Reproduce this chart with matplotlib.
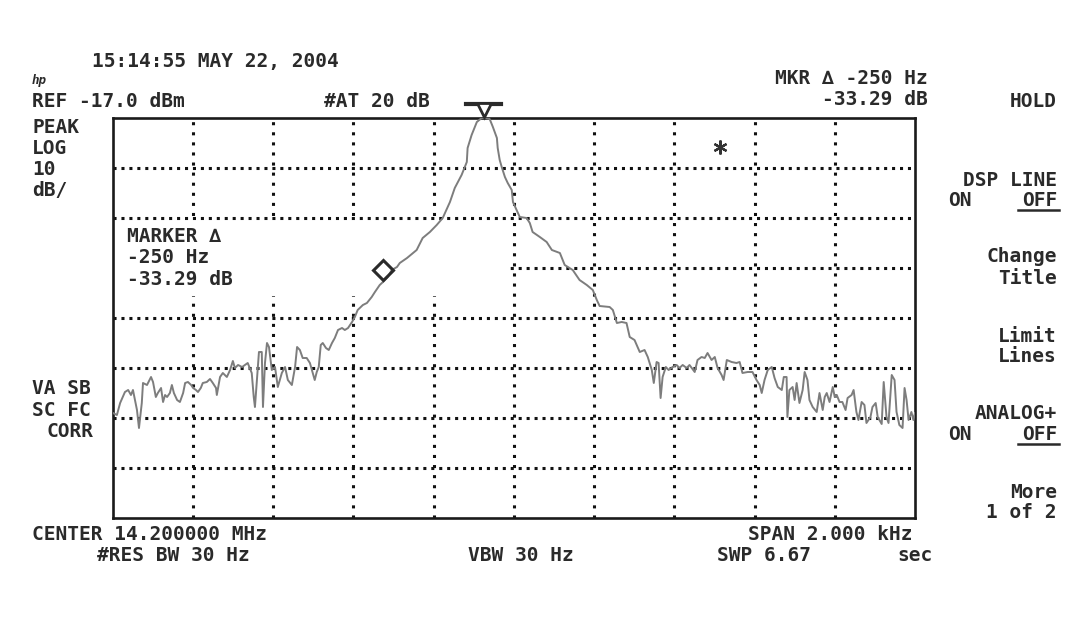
import matplotlib
matplotlib.use('Agg')
import matplotlib.pyplot as plt
from matplotlib.patches import Rectangle
from matplotlib.lines import Line2D

# trace: offset from 14.2 MHz (Hz) and level (dBm)
freq_hz = [-999, -989, -981, -969, -961, -954, -949, -944, -939, -934,
           -927, -924, -914, -904, -899, -892, -887, -879, -874, -869,
           -864, -857, -852, -847, -839, -832, -824, -819, -812, -804,
           -799, -792, -787, -780, -775, -765, -757, -750, -742, -740,
           -732, -725, -715, -707, -700, -695, -687, -677, -670, -663,
           -653, -648, -645, -640, -635, -628, -625, -620, -615, -610,
           -603, -595, -588, -578, -570, -563, -553, -545, -540, -533,
           -526, -516, -508, -501, -496, -491, -486, -481, -476, -468,
           -461, -453, -446, -438, -428, -421, -413, -403, -396, -389,
           -376, -366, -354, -346, -334, -326, -314, -304, -291, -284,
           -266, -242, -227, -209, -192, -177, -159, -147, -130, -117,
           -115, -105, -92, -80, -70, -60, -52, -42, -40, -35,
           -30, -22, -15, -5, -2, 7, 15, 32, 40, 47,
           65, 82, 95, 115, 127, 147, 164, 182, 197, 207,
           214, 239, 247, 257, 269, 281, 289, 301, 314, 326,
           334, 344, 349, 356, 361, 366, 371, 379, 386, 396,
           406, 413, 421, 431, 438, 451, 458, 468, 476, 483,
           493, 501, 508, 518, 523, 531, 543, 555, 563, 570,
           583, 595, 605, 613, 618, 625, 633, 643, 650, 658,
           668, 673, 680, 682, 687, 695, 700, 705, 712, 720,
           725, 732, 737, 745, 755, 762, 770, 775, 780, 787,
           795, 800, 805, 812, 819, 827, 832, 842, 847, 854,
           859, 867, 874, 879, 889, 894, 902, 907, 917, 922,
           929, 934, 942, 949, 954, 961, 969, 974, 979, 984,
           991, 996, 1000]
level_dbm = [-76.0, -76.4, -74.0, -71.8, -71.4, -72.4, -71.4, -73.4, -75.4, -79.0,
             -74.0, -70.0, -70.4, -68.8, -69.8, -72.8, -72.0, -71.0, -73.8, -72.4,
             -72.8, -72.0, -70.4, -72.0, -73.4, -73.8, -72.0, -70.0, -69.8, -70.4,
             -71.0, -71.4, -71.8, -71.0, -70.0, -69.8, -69.2, -70.0, -71.0, -72.4,
             -68.8, -68.0, -68.8, -67.4, -65.6, -67.0, -66.4, -66.8, -66.4, -66.0,
             -68.0, -72.8, -74.8, -69.4, -63.8, -63.8, -74.8, -66.0, -62.0, -62.8,
             -67.4, -66.8, -70.8, -68.0, -66.8, -69.4, -70.4, -66.8, -62.8, -63.4,
             -65.0, -65.0, -66.0, -68.0, -69.4, -67.8, -66.8, -62.4, -62.0, -63.0,
             -63.4, -62.0, -61.0, -59.4, -59.0, -59.4, -59.0, -57.8, -56.8, -55.4,
             -54.4, -54.0, -52.8, -51.8, -50.4, -49.8, -48.8, -47.4, -46.8, -46.0,
             -45.0, -43.4, -41.0, -39.8, -38.4, -37.0, -33.8, -31.0, -28.4, -25.8,
             -23.0, -20.4, -17.8, -17.0, -17.0, -17.2, -18.8, -21.0, -23.0, -25.4,
             -26.8, -28.8, -30.0, -31.4, -33.8, -35.4, -36.8, -37.0, -38.0, -39.8,
             -40.8, -41.8, -43.4, -44.0, -46.4, -47.4, -49.4, -50.4, -51.4, -53.4,
             -54.6, -54.8, -55.4, -58.0, -57.8, -58.0, -60.8, -61.4, -63.8, -63.4,
             -64.8, -67.4, -70.0, -65.8, -66.0, -73.0, -68.8, -66.8, -67.4, -66.8,
             -66.4, -67.0, -66.4, -67.0, -66.4, -67.8, -65.4, -64.8, -65.0, -64.0,
             -65.4, -64.8, -67.0, -68.4, -69.4, -65.4, -65.8, -66.0, -65.8, -68.0,
             -67.8, -67.8, -69.4, -70.4, -72.0, -69.4, -67.4, -66.8, -69.0, -70.8,
             -71.4, -68.8, -68.8, -76.8, -71.4, -70.8, -73.4, -70.0, -74.0, -71.4,
             -67.8, -69.4, -73.4, -74.8, -75.8, -72.0, -75.4, -72.8, -72.0, -73.8,
             -70.8, -72.8, -72.4, -73.8, -73.8, -75.4, -73.0, -72.4, -71.4, -75.8,
             -77.4, -73.8, -74.4, -78.0, -76.8, -74.8, -74.0, -76.8, -78.2, -69.8,
             -76.8, -78.0, -68.4, -69.4, -75.8, -78.4, -79.0, -71.0, -73.4, -77.4,
             -75.8, -77.4, -76.0]

ref_level = -17.0
db_per_div = 10
span_hz = 2000
peak_marker = (-75, -17.0)
delta_marker = (-325, -47.4)
star_point = (513, -22.8)

W, H = 1088, 631
ink = '#2a2a2a'
mono = ['DejaVu Sans Mono']
FS = 14

fig = plt.figure(figsize=(W / 100, H / 100), dpi=100)
fig.patch.set_facecolor('white')


def put(x, y, s, ha='left', size=FS, **kw):
    # x, y in pixels from the top-left corner, y is the baseline
    kw.setdefault('weight', 'bold')
    fig.text(x / W, 1 - y / H, s, ha=ha, va='baseline', fontsize=size,
             family=mono, color=ink, **kw)


ax = fig.add_axes([112.5 / W, 1 - 518 / H, 802.5 / W, 400 / H])
ax.set_xlim(-span_hz / 2, span_hz / 2)
ax.set_ylim(ref_level - 8 * db_per_div, ref_level)
ax.set_xticks([])
ax.set_yticks([])
for s in ax.spines.values():
    s.set_linewidth(1.9)
    s.set_color('#1a1a1a')

# dotted graticule
for i in range(1, 10):
    ax.axvline(-span_hz / 2 + i * span_hz / 10, color='#111111', lw=2.2,
               ls=(0, (1, 2.3)), zorder=1)
for i in range(1, 8):
    ax.axhline(ref_level - i * db_per_div, color='#111111', lw=2.2,
               ls=(0, (1, 1.6)), zorder=1)
# annotation area blanks the graticule
ax.add_patch(Rectangle((-997, -52.6), 986, 14.8, facecolor='white',
                       edgecolor='none', zorder=1.5))

ax.plot(freq_hz, level_dbm, color='#7d7d7d', lw=1.4, zorder=3)

# markers
ax.plot(*delta_marker, marker='D', ms=10, mfc='none', mec='#2a2a2a',
        mew=2.2, zorder=4)
ax.plot([peak_marker[0] - 44, peak_marker[0] + 44], [-14.2, -14.2],
        color='#2a2a2a', lw=3, clip_on=False, zorder=4)
ax.plot(peak_marker[0], peak_marker[1] + 1.6, marker='v', ms=10, mfc='white',
        mec='#2a2a2a', mew=2, clip_on=False, zorder=4)
ax.plot(*star_point, marker=(6, 2, 0), ms=10, mew=1.6, color='#333333',
        zorder=4)

# screen annotations
put(215, 67, '15:14:55 MAY 22, 2004', ha='center')
put(32, 84, 'hp', size=9, style='italic')
put(32, 107, 'REF -17.0 dBm')
put(377, 107, '#AT 20 dB', ha='center')
put(32, 133, 'PEAK')
put(32, 154, 'LOG')
put(32, 175, '10')
put(32, 196, 'dB/')
put(928, 84, 'MKR \u2206 -250 Hz', ha='right')
put(928, 105, '-33.29 dB', ha='right')
put(1057, 107, 'HOLD', ha='right')

put(127, 242, 'MARKER \u2206')
put(127, 263, '-250 Hz')
put(127, 285, '-33.29 dB')

put(32, 394, 'VA SB')
put(32, 416, 'SC FC')
put(47, 437, 'CORR')

put(1057, 185.5, 'DSP LINE', ha='right')
put(948, 206.5, 'ON')
put(1057, 206.5, 'OFF', ha='right')
put(1057, 262.5, 'Change', ha='right')
put(1057, 283.5, 'Title', ha='right')
put(1057, 341.5, 'Limit', ha='right')
put(1057, 362.5, 'Lines', ha='right')
put(1057, 419, 'ANALOG+', ha='right')
put(948, 440, 'ON')
put(1057, 440, 'OFF', ha='right')
put(1057, 497.5, 'More', ha='right')
put(1057, 518.5, '1 of 2', ha='right')
for yy in (210, 444):
    fig.add_artist(Line2D([1018 / W, 1059 / W], [1 - yy / H, 1 - yy / H],
                          color=ink, lw=1.8))

put(32, 540, 'CENTER 14.200000 MHz')
put(97, 561, '#RES BW 30 Hz')
put(521, 561, 'VBW 30 Hz', ha='center')
put(913, 540, 'SPAN 2.000 kHz', ha='right')
put(764, 561, 'SWP 6.67', ha='center')
put(933, 561, 'sec', ha='right')

fig.savefig('out.png', dpi=100)
